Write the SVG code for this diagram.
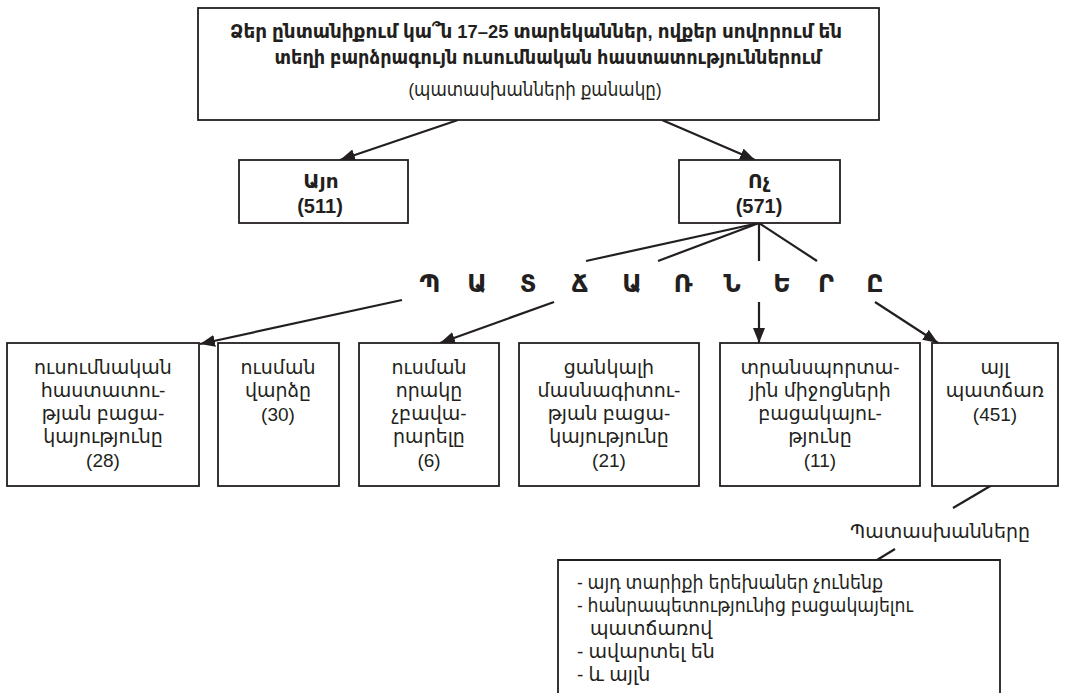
<svg xmlns="http://www.w3.org/2000/svg" width="1069" height="693" viewBox="0 0 1069 693">
<style>
  .box { fill: #ffffff; stroke: #231f20; stroke-width: 1.8; }
  .conn { fill: none; stroke: #231f20; stroke-width: 2.2; }
  text { font-family: "Liberation Sans", "Noto Sans", "DejaVu Sans", sans-serif; fill: #231f20; }
  .t { font-size: 19px; text-anchor: middle; }
  .b { font-weight: bold; }
  .yn { font-size: 20px; font-weight: bold; text-anchor: middle; }
  .big { font-size: 24px; font-weight: bold; text-anchor: middle; }
  .l { font-size: 19px; }
</style>
<defs>
  <marker id="ah" markerUnits="userSpaceOnUse" markerWidth="16" markerHeight="12" refX="15" refY="6" orient="auto">
    <path d="M0,0 L15,6 L0,12 z" fill="#231f20"/>
  </marker>
</defs>
<rect width="1069" height="693" fill="#ffffff"/>

<g id="connectors">
  <line class="conn" x1="458" y1="120" x2="340" y2="160" marker-end="url(#ah)"/>
  <line class="conn" x1="662" y1="120" x2="755" y2="160" marker-end="url(#ah)"/>
  <line class="conn" x1="759" y1="223" x2="586" y2="261"/>
  <line class="conn" x1="759" y1="223" x2="658" y2="261"/>
  <line class="conn" x1="759" y1="223" x2="759" y2="261"/>
  <line class="conn" x1="759" y1="223" x2="817" y2="261"/>
  <line class="conn" x1="402" y1="300" x2="200" y2="344" marker-end="url(#ah)"/>
  <line class="conn" x1="554" y1="302" x2="440" y2="343" marker-end="url(#ah)"/>
  <line class="conn" x1="759" y1="302" x2="759" y2="343" marker-end="url(#ah)"/>
  <line class="conn" x1="875" y1="302" x2="938" y2="343" marker-end="url(#ah)"/>
  <line class="conn" x1="992" y1="485" x2="953" y2="508"/>
  <line class="conn" x1="895" y1="549" x2="877" y2="560"/>
</g>

<g id="question">
  <rect class="box" x="198" y="8" width="681" height="112"/>
  <text class="t b" x="536" y="38" textLength="612" lengthAdjust="spacingAndGlyphs">Ձեր ընտանիքում կա՞ն 17–25 տարեկաններ, ովքեր սովորում են</text>
  <text class="t b" x="548" y="64" textLength="547" lengthAdjust="spacingAndGlyphs">տեղի բարձրագույն ուսումնական հաստատություններում</text>
  <text class="t" x="535" y="96" textLength="253" lengthAdjust="spacingAndGlyphs">(պատասխանների քանակը)</text>
</g>

<g id="yes">
  <rect class="box" x="239" y="160" width="169" height="63"/>
  <text class="yn" x="321" y="188">Այո</text>
  <text class="yn" x="320" y="213">(511)</text>
</g>

<g id="no">
  <rect class="box" x="679" y="160" width="161" height="63"/>
  <text class="yn" x="759" y="188">Ոչ</text>
  <text class="yn" x="759" y="213">(571)</text>
</g>

<g id="reasons-label">
  <text class="big" x="430" y="292">Պ</text>
  <text class="big" x="477" y="292">Ա</text>
  <text class="big" x="528" y="292">Տ</text>
  <text class="big" x="580" y="292">Ճ</text>
  <text class="big" x="632" y="292">Ա</text>
  <text class="big" x="683" y="292">Ռ</text>
  <text class="big" x="732" y="292">Ն</text>
  <text class="big" x="782" y="292">Ե</text>
  <text class="big" x="826" y="292">Ր</text>
  <text class="big" x="875" y="292">Ը</text>
</g>

<g id="r1">
  <rect class="box" x="7" y="343" width="192" height="143"/>
  <text class="t" x="103" y="374">ուսումնական</text>
  <text class="t" x="103" y="397">հաստատու-</text>
  <text class="t" x="103" y="420">թյան բացա-</text>
  <text class="t" x="103" y="443">կայությունը</text>
  <text class="t" x="103" y="467">(28)</text>
</g>

<g id="r2">
  <rect class="box" x="218" y="343" width="121" height="143"/>
  <text class="t" x="278" y="374">ուսման</text>
  <text class="t" x="278" y="397">վարձը</text>
  <text class="t" x="278" y="421">(30)</text>
</g>

<g id="r3">
  <rect class="box" x="359" y="343" width="140" height="143"/>
  <text class="t" x="429" y="374">ուսման</text>
  <text class="t" x="429" y="397">որակը</text>
  <text class="t" x="429" y="420">չբավա-</text>
  <text class="t" x="429" y="443">րարելը</text>
  <text class="t" x="429" y="467">(6)</text>
</g>

<g id="r4">
  <rect class="box" x="519" y="343" width="180" height="143"/>
  <text class="t" x="609" y="374">ցանկալի</text>
  <text class="t" x="609" y="397">մասնագիտու-</text>
  <text class="t" x="609" y="420">թյան բացա-</text>
  <text class="t" x="609" y="443">կայությունը</text>
  <text class="t" x="609" y="467">(21)</text>
</g>

<g id="r5">
  <rect class="box" x="720" y="343" width="200" height="143"/>
  <text class="t" x="820" y="374">տրանսպորտա-</text>
  <text class="t" x="820" y="397">յին միջոցների</text>
  <text class="t" x="820" y="420">բացակայու-</text>
  <text class="t" x="820" y="443">թյունը</text>
  <text class="t" x="820" y="467">(11)</text>
</g>

<g id="r6">
  <rect class="box" x="932" y="343" width="126" height="143"/>
  <text class="t" x="995" y="374">այլ</text>
  <text class="t" x="995" y="397">պատճառ</text>
  <text class="t" x="995" y="421">(451)</text>
</g>

<g id="answers-label">
  <text class="t" x="940" y="538">Պատասխանները</text>
</g>

<g id="answers">
  <path class="box" d="M558,700 L558,560 L1000,560 L1000,700"/>
  <text class="l" x="577" y="589" textLength="306" lengthAdjust="spacingAndGlyphs">- այդ տարիքի երեխաներ չունենք</text>
  <text class="l" x="577" y="612" textLength="336" lengthAdjust="spacingAndGlyphs">- հանրապետությունից բացակայելու</text>
  <text class="l" x="590" y="635">պատճառով</text>
  <text class="l" x="577" y="658">- ավարտել են</text>
  <text class="l" x="577" y="681">- և այլն</text>
</g>
</svg>
